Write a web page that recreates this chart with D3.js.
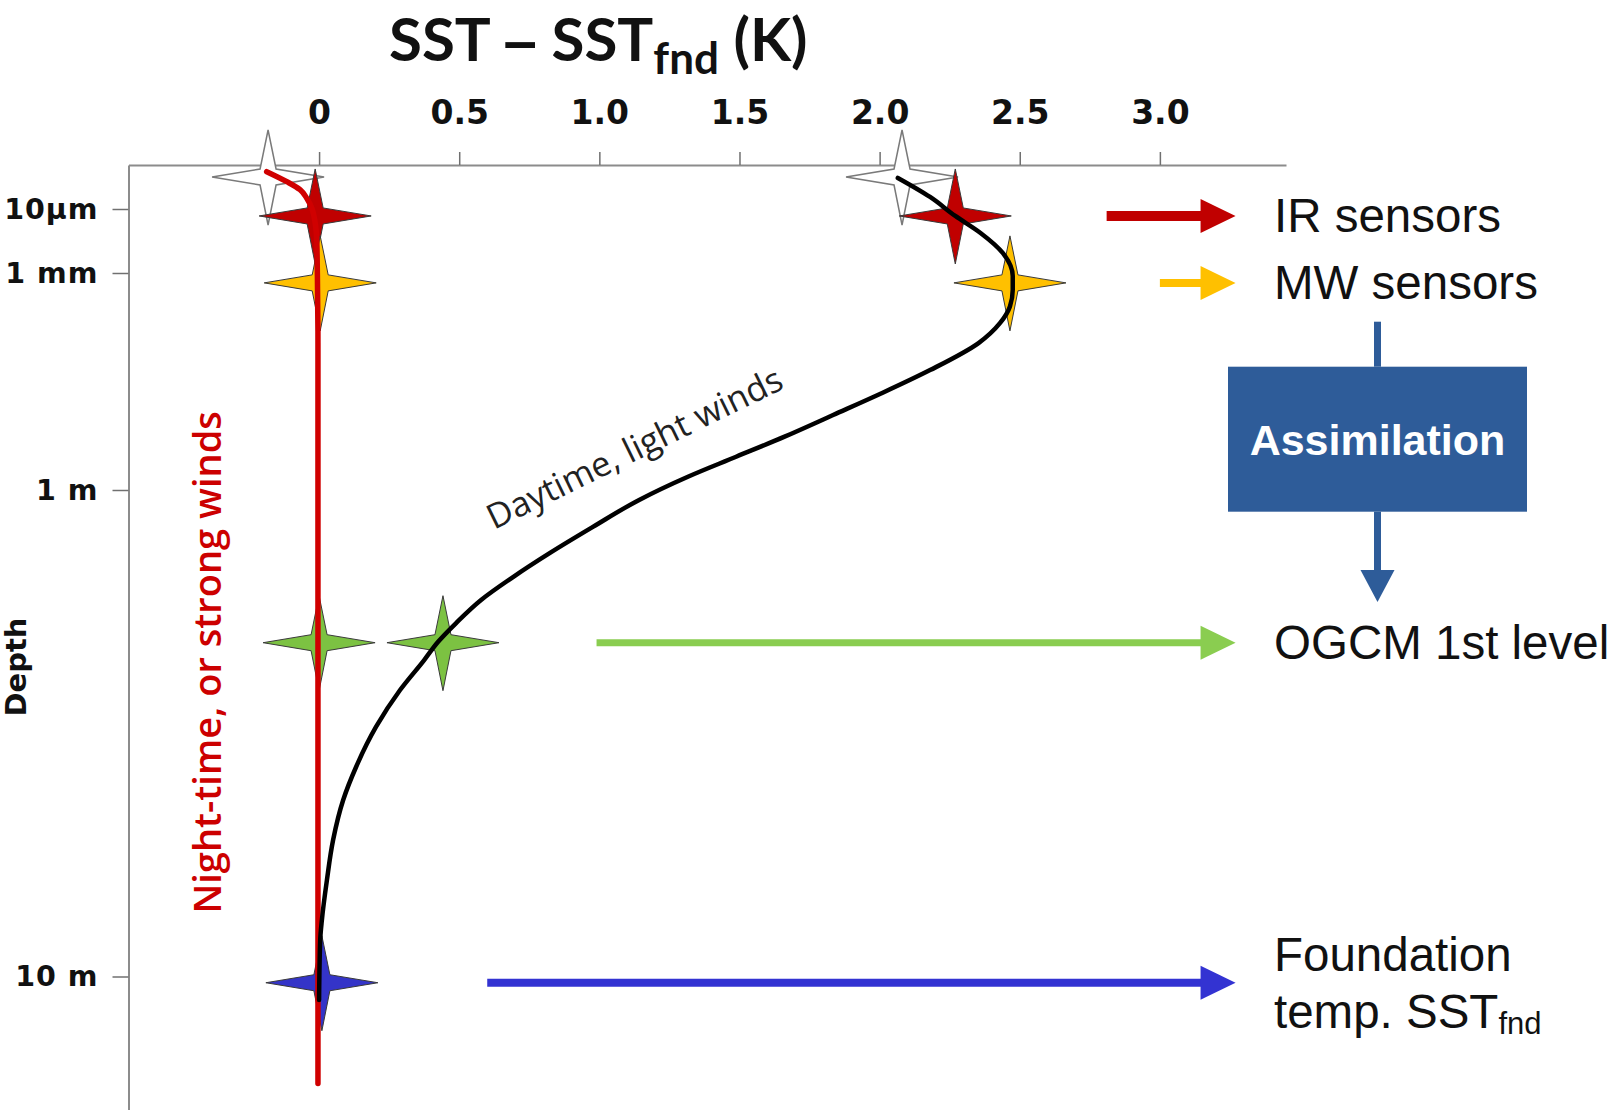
<!DOCTYPE html>
<html>
<head>
<meta charset="utf-8">
<script src="https://cdn.jsdelivr.net/npm/d3@7"></script>
<style>
  html, body { margin: 0; padding: 0; background: #fff; }
  svg { display: block; }
</style>
</head>
<body>
<svg id="chart" width="1613" height="1110"></svg>
<script>
// ---- Top axis: SST - SSTfnd (K)
const xTickValues = [0, 0.5, 1.0, 1.5, 2.0, 2.5, 3.0];
const xTickLabels = ["0", "0.5", "1.0", "1.5", "2.0", "2.5", "3.0"];

// ---- Depth axis: log10(depth in metres)
const depthTickValues = [-5, -3, 0, 1];
const depthTickLabels = ["10µm", "1 mm", "1 m", "10 m"];

// ---- Daytime, light winds profile: depth (m) and SST - SSTfnd (K)
const dayDepth = [1.07e-6, 4.2e-6, 1.65e-5, 5.6e-5, 2.4e-4, 1.1e-3, 1.7e-3, 2.9e-3, 4.9e-3, 9.3e-3,
                  0.022, 0.046, 0.092, 0.183, 0.347, 0.655, 1.048, 1.191, 1.347, 1.510, 1.683, 1.877,
                  2.053, 2.236, 2.577, 3.070, 3.710, 4.337, 5.242, 6.333, 7.653, 8.414, 11.18];
const dayDelta = [2.065, 2.18, 2.27, 2.36, 2.44, 2.475, 2.475, 2.465, 2.43, 2.353,
                  2.18, 2.007, 1.834, 1.661, 1.488, 1.316, 1.142, 0.977, 0.824, 0.692, 0.578, 0.489,
                  0.424, 0.375, 0.289, 0.203, 0.132, 0.086, 0.050, 0.028, 0.010, 0.004, 0.0];

// ---- Night-time, or strong winds profile (cool skin, then uniform)
const nightDepth = [6.8e-7, 1.4e-6, 2.5e-6, 4.6e-6, 9.5e-6, 2.7e-5, 1.15e-4, 1.1e-3, 9.3e-3, 16.6];
const nightDelta = [-0.187, -0.115, -0.068, -0.044, -0.026, -0.014, -0.008, -0.006, -0.004, -0.004];

// ---- Measurement levels (stars)
const starKind  = ["skin", "ir", "mw", "skin", "ir", "mw", "ogcm", "ogcm", "fnd"];
const starDepth = [1e-6, 1.65e-5, 1.37e-3, 1e-6, 1.65e-5, 1.37e-3, 2.06, 2.06, 10.3];
const starDelta = [-0.182, -0.014, 0.004, 2.08, 2.27, 2.465, 0.0, 0.442, 0.01];

// ---- Arrows towards the observing systems
const arrowKind  = ["ir", "mw", "ogcm", "fnd"];
const arrowDepth = [1.65e-5, 1.37e-3, 2.06, 10.3];
const arrowFrom  = [2.81, 3.0, 0.99, 0.6];   // K, start of shaft
const arrowTo    = 3.27;                      // K, arrow tip

const starFill   = { skin: "#ffffff", ir: "#c00000", mw: "#ffc000", ogcm: "#7cc242", fnd: "#3434c8" };
const arrowColor = { ir: "#c00000", mw: "#ffc000", ogcm: "#8acd50", fnd: "#3333d2" };
const arrowWidth = { ir: 10, mw: 8, ogcm: 7, fnd: 8 };

const svg = d3.select("#chart");

// Scales
const x = d3.scaleLinear().domain([-0.68, 3.45]).range([128.5, 1286]);
// schematic depth axis: piecewise in log10(depth)
const y = d3.scaleLinear()
  .domain([-6.375, -5, -3, 0, 1, 1.2757])
  .range([165, 209, 273, 490, 976.5, 1110.6]);
const yd = d => y(Math.log10(d));

// ---- Axes
const gx = svg.append("g").attr("transform", "translate(0,165)")
  .call(d3.axisTop(x).tickValues(xTickValues)
    .tickFormat((d, i) => xTickLabels[i])
    .tickSize(13).tickSizeOuter(0).tickPadding(28));
gx.select(".domain").attr("stroke", "#8c8c8c").attr("stroke-width", 2);
gx.selectAll(".tick line").attr("stroke", "#707070").attr("stroke-width", 1.5);
gx.selectAll(".tick text")
  .attr("font-family", "DejaVu Sans")
  .attr("font-weight", "bold")
  .attr("font-size", 33)
  .attr("fill", "#111");

const gy = svg.append("g").attr("transform", "translate(128.5,0)")
  .call(d3.axisLeft(y).tickValues(depthTickValues)
    .tickFormat((d, i) => depthTickLabels[i])
    .tickSize(16).tickSizeOuter(0).tickPadding(14));
gy.select(".domain").attr("stroke", "#8c8c8c").attr("stroke-width", 2);
gy.selectAll(".tick line").attr("stroke", "#707070").attr("stroke-width", 1.5);
gy.selectAll(".tick text")
  .attr("font-family", "DejaVu Sans")
  .attr("font-weight", "bold")
  .attr("font-size", 28.5)
  .attr("letter-spacing", 1)
  .attr("fill", "#111");

// ---- Title
const title = svg.append("text")
  .attr("x", 389).attr("y", 61)
  .attr("font-family", "Lato")
  .attr("font-weight", "bold")
  .attr("font-size", 60)
  .attr("fill", "#111");
title.append("tspan").text("SST ");
title.append("tspan").attr("font-family", "Liberation Sans").text("\u2013");
title.append("tspan").text(" SST");
title.append("tspan").attr("font-size", 44).attr("dy", 13).text("fnd");
title.append("tspan").attr("dy", -13).text(" (K)");

// ---- Axis name
svg.append("text")
  .attr("transform", "translate(25.7,667) rotate(-90)")
  .attr("text-anchor", "middle")
  .attr("font-family", "DejaVu Sans")
  .attr("font-weight", "bold")
  .attr("font-size", 29)
  .attr("fill", "#111")
  .text("Depth");

// ---- Stars
function starPath(rh, rUp, rDown, r) {
  return `M0,${-rUp} L${r},${-r} L${rh},0 L${r},${r} L0,${rDown} L${-r},${r} L${-rh},0 L${-r},${-r} Z`;
}
const stars = starKind.map((k, i) => ({ kind: k, depth: starDepth[i], delta: starDelta[i] }));
svg.append("g").selectAll("path")
  .data(stars)
  .join("path")
  .attr("transform", d => `translate(${x(d.delta)},${yd(d.depth)})`)
  .attr("d", starPath(56, 47, 48, 8))
  .attr("fill", d => starFill[d.kind])
  .attr("stroke", d => d.kind === "skin" ? "#7a7a7a" : "#3a3a3a")
  .attr("stroke-width", d => d.kind === "skin" ? 1.5 : 1)
  .attr("stroke-linejoin", "miter");

// ---- Profiles (depth increases monotonically along each profile)
const line = d3.line()
  .x(d => x(d.delta))
  .y(d => yd(d.depth))
  .curve(d3.curveMonotoneY);

const night = nightDepth.map((d, i) => ({ depth: d, delta: nightDelta[i] }));
svg.append("path")
  .datum(night)
  .attr("d", line)
  .attr("fill", "none")
  .attr("stroke", "#d00000")
  .attr("stroke-width", 5.5)
  .attr("stroke-linecap", "round");

const day = dayDepth.map((d, i) => ({ depth: d, delta: dayDelta[i] }));
svg.append("path")
  .datum(day)
  .attr("d", line)
  .attr("fill", "none")
  .attr("stroke", "#000")
  .attr("stroke-width", 4.5)
  .attr("stroke-linecap", "round");

// ---- Profile annotations
svg.append("text")
  .attr("transform", "translate(494,530) rotate(-26)")
  .attr("font-family", "Open Sans")
  .attr("font-size", 34.5)
  .attr("fill", "#222")
  .text("Daytime, light winds");

svg.append("text")
  .attr("transform", "translate(221,913.5) rotate(-90)")
  .attr("font-family", "Open Sans")
  .attr("font-weight", 600)
  .attr("font-size", 38)
  .attr("fill", "#cc0000")
  .text("Night-time, or strong winds");

// ---- Arrows to observing systems
const headLen = 35, headHalf = 17;
const arrows = arrowKind.map((k, i) => ({ kind: k, depth: arrowDepth[i], from: arrowFrom[i] }));
const ga = svg.append("g");
arrows.forEach(a => {
  const yc = yd(a.depth), x0 = x(a.from), x1 = x(arrowTo);
  ga.append("line")
    .attr("x1", x0).attr("x2", x1 - headLen + 1)
    .attr("y1", yc).attr("y2", yc)
    .attr("stroke", arrowColor[a.kind])
    .attr("stroke-width", arrowWidth[a.kind]);
  ga.append("path")
    .attr("d", `M${x1 - headLen},${yc - headHalf} L${x1},${yc} L${x1 - headLen},${yc + headHalf} Z`)
    .attr("fill", arrowColor[a.kind]);
});

// ---- Labels on the right
const labelX = 1274;
function label(txt, yb) {
  return svg.append("text")
    .attr("x", labelX).attr("y", yb)
    .attr("font-family", "Liberation Sans")
    .attr("font-size", 47.5)
    .attr("fill", "#111")
    .text(txt);
}
label("IR sensors", yd(arrowDepth[0]) + 16.5);
label("MW sensors", yd(arrowDepth[1]) + 16.5);
label("OGCM 1st level", yd(arrowDepth[2]) + 16.5);
label("Foundation", yd(arrowDepth[3]) - 12);
const fnd = label("temp. SST", yd(arrowDepth[3]) + 45.5);
fnd.append("tspan").attr("font-size", 31).attr("dy", 6).text("fnd");

// ---- Assimilation box linking MW sensors to the model level
const boxColor = "#2e5c99";
const box = { x0: 1228, x1: 1527, y0: 366.7, y1: 511.7 };
const cx = (box.x0 + box.x1) / 2;
svg.append("line")
  .attr("x1", cx).attr("x2", cx).attr("y1", 321.7).attr("y2", box.y0)
  .attr("stroke", boxColor).attr("stroke-width", 7);
svg.append("rect")
  .attr("x", box.x0).attr("y", box.y0)
  .attr("width", box.x1 - box.x0).attr("height", box.y1 - box.y0)
  .attr("fill", boxColor);
svg.append("line")
  .attr("x1", cx).attr("x2", cx).attr("y1", box.y1).attr("y2", 572)
  .attr("stroke", boxColor).attr("stroke-width", 7);
svg.append("path")
  .attr("d", `M${cx - 17},570 L${cx + 17},570 L${cx},602 Z`)
  .attr("fill", boxColor);
svg.append("text")
  .attr("x", cx).attr("y", 455)
  .attr("text-anchor", "middle")
  .attr("font-family", "Liberation Sans")
  .attr("font-weight", "bold")
  .attr("font-size", 43)
  .attr("fill", "#fff")
  .text("Assimilation");
</script>
</body>
</html>
